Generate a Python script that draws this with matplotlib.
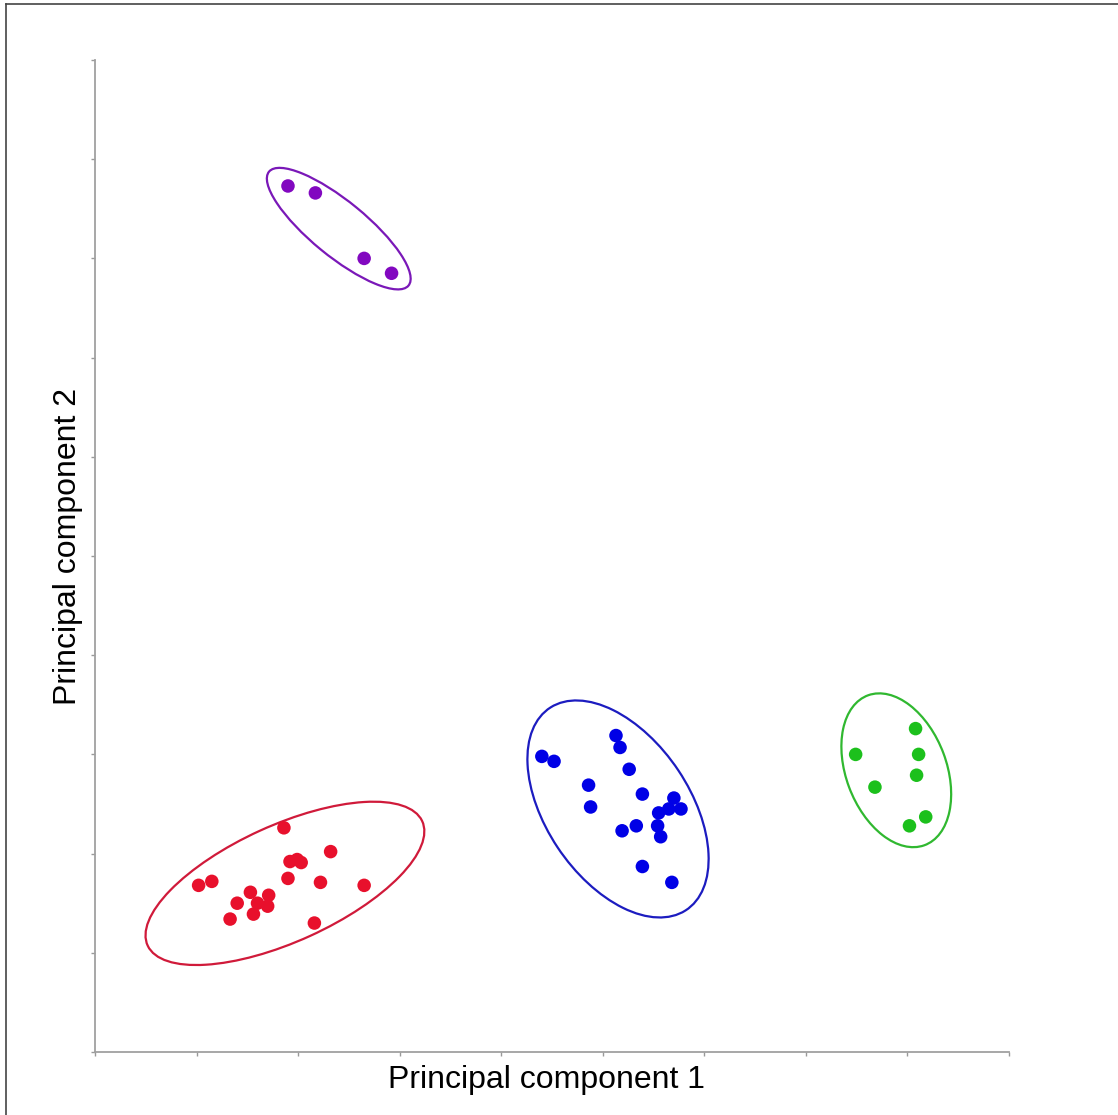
import numpy as np
import matplotlib.pyplot as plt
from matplotlib.patches import Ellipse
from matplotlib.lines import Line2D

plt.rcParams['font.family'] = ['Liberation Sans', 'DejaVu Sans']

# cluster points (PC1, PC2)
red_x = [1.02, 1.15, 1.86, 2.32, 1.92, 1.99, 2.03, 1.90, 2.22, 2.65, 1.53, 1.71, 1.40, 1.60, 1.70, 1.33, 1.56, 2.16]
red_y = [1.68, 1.72, 2.26, 2.02, 1.92, 1.94, 1.91, 1.75, 1.71, 1.68, 1.61, 1.58, 1.50, 1.50, 1.47, 1.34, 1.39, 1.30]

blue_x = [4.40, 4.52, 5.13, 5.17, 5.26, 4.86, 4.88, 5.39, 5.70, 5.77, 5.65, 5.55, 5.54, 5.33, 5.19, 5.57, 5.39, 5.68]
blue_y = [2.98, 2.93, 3.19, 3.07, 2.85, 2.69, 2.47, 2.60, 2.56, 2.45, 2.45, 2.41, 2.28, 2.28, 2.23, 2.17, 1.87, 1.71]

green_x = [8.08, 7.49, 8.11, 8.09, 7.68, 8.18, 8.02]
green_y = [3.26, 3.00, 3.00, 2.79, 2.67, 2.37, 2.28]

purple_x = [1.90, 2.17, 2.65, 2.92]
purple_y = [8.73, 8.66, 8.00, 7.85]

# confidence ellipses: centre x, centre y, width, height, angle
ell_red = (1.87, 1.70, 2.98, 1.17, 25)
ell_blue = (5.15, 2.45, 2.44, 1.42, -57)
ell_green = (7.89, 2.84, 1.61, 0.99, -70)
ell_purple = (2.40, 8.30, 1.79, 0.55, -40)

groups = [
    (red_x, red_y, ell_red, '#e8102c', '#d01a3a'),
    (blue_x, blue_y, ell_blue, '#0000e6', '#1c1cc0'),
    (green_x, green_y, ell_green, '#1cc01c', '#30b830'),
    (purple_x, purple_y, ell_purple, '#8208c0', '#7a18b8'),
]

fig = plt.figure(figsize=(11.18, 11.15), dpi=100)
ax = fig.add_axes([0.085, 0.0565, 0.8175, 0.8897])

for xs, ys, (cx, cy, w, h, ang), pc, ec in groups:
    ax.scatter(xs, ys, s=95, color=pc, edgecolors='none', zorder=3)
    ax.add_patch(Ellipse((cx, cy), w, h, angle=ang, fill=False,
                         edgecolor=ec, linewidth=1.6, zorder=2))

ax.set_xlim(0, 9)
ax.set_ylim(0, 10)
ax.set_xticks(np.arange(0, 10))
ax.set_yticks(np.arange(0, 11))
ax.set_xticklabels([])
ax.set_yticklabels([])
ax.tick_params(direction='out', length=3, width=1, color='#999999')
for side in ['top', 'right']:
    ax.spines[side].set_visible(False)
for side in ['left', 'bottom']:
    ax.spines[side].set_color('#a0a0a0')
    ax.spines[side].set_linewidth(1.3)

fig.text(0.489, 0.031, 'Principal component 1', ha='center', va='center', fontsize=23)
fig.text(0.061, 0.510, 'Principal component 2', ha='center', va='center',
         fontsize=23, rotation=90)

# thin frame on the top and left edges
fig.add_artist(Line2D([0.0054, 1.0], [0.9964, 0.9964], color='#444444', linewidth=1.2))
fig.add_artist(Line2D([0.0054, 0.0054], [0.0, 0.9964], color='#444444', linewidth=1.2))

fig.savefig('out.png', dpi=100, facecolor='white')
